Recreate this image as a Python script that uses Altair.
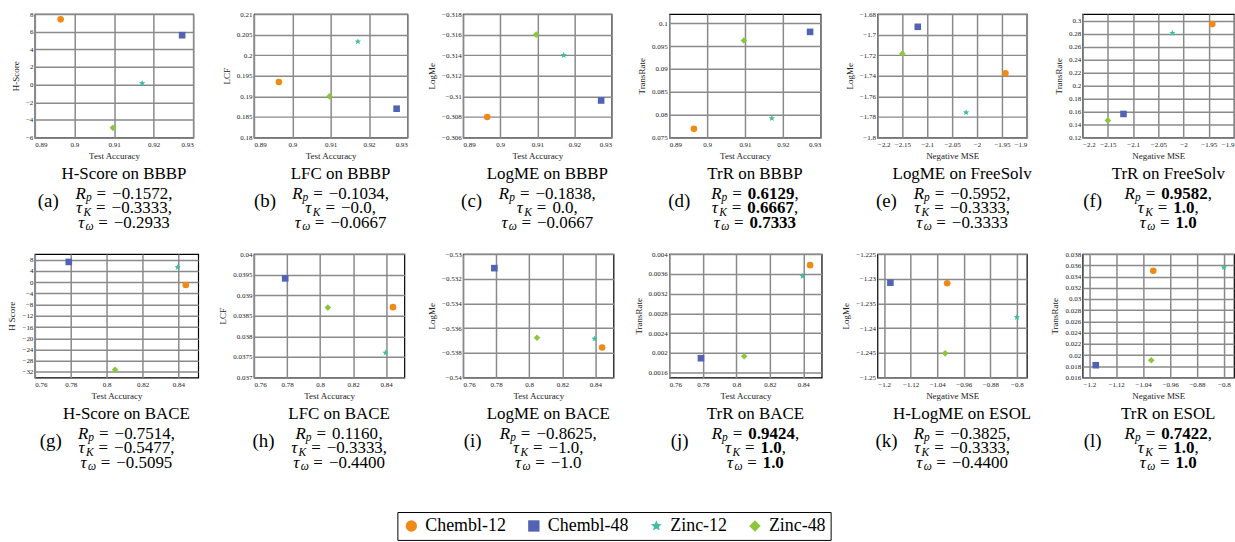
import math
import altair as alt
import pandas as pd

# ---------------- data ----------------
series = ["Chembl-12", "Chembl-48", "Zinc-12", "Zinc-48"]
colors = ["#ef8a17", "#5363b4", "#3fbf9f", "#8cc63f"]

bbbp_acc = [0.8965, 0.9272, 0.9171, 0.9097]
freesolv_nmse = [-1.943, -2.119, -2.022, -2.150]
bace_acc = [0.8441, 0.7789, 0.8396, 0.8047]
esol_nmse = [-1.010, -1.181, -0.800, -1.016]

hscore_bbbp = [7.4, 5.6, 0.15, -4.9]
lfc_bbbp = [0.1935, 0.1870, 0.2033, 0.1900]
logme_bbbp = [-0.3080, -0.3096, -0.3140, -0.3160]
trr_bbbp = [0.0769, 0.0981, 0.0792, 0.0962]
logme_freesolv = [-1.7376, -1.6924, -1.7756, -1.7185]
trr_freesolv = [0.2945, 0.1563, 0.2806, 0.1464]
hscore_bace = [-1.0, 7.2, 5.3, -31.2]
lfc_bace = [0.03871, 0.03941, 0.03760, 0.03870]
logme_bace = [-0.53757, -0.53114, -0.53686, -0.53678]
trr_bace = [0.003776, 0.001892, 0.003553, 0.001932]
hlogme_esol = [-1.2309, -1.2308, -1.2378, -1.2451]
trr_esol = [0.03503, 0.01820, 0.03562, 0.01909]

xt_bbbp = [0.89, 0.9, 0.91, 0.92, 0.93]
xt_bace = [0.76, 0.78, 0.8, 0.82, 0.84]
xt_freesolv = [-2.2, -2.15, -2.1, -2.05, -2, -1.95, -1.9]
xt_esol = [-1.2, -1.12, -1.04, -0.96, -0.88, -0.8]

yt_a = [-6, -4, -2, 0, 2, 4, 6, 8]
yt_b = [0.18, 0.185, 0.19, 0.195, 0.2, 0.205, 0.21]
yt_c = [-0.318, -0.316, -0.314, -0.312, -0.31, -0.308, -0.306]
yt_d = [0.075, 0.08, 0.085, 0.09, 0.095, 0.1]
yt_e = [-1.8, -1.78, -1.76, -1.74, -1.72, -1.7, -1.68]
yt_f = [0.12, 0.14, 0.16, 0.18, 0.2, 0.22, 0.24, 0.26, 0.28, 0.3]
yt_g = [-32, -28, -24, -20, -16, -12, -8, -4, 0, 4, 8]
yt_h = [0.037, 0.0375, 0.038, 0.0385, 0.039, 0.0395, 0.04]
yt_i = [-0.54, -0.538, -0.536, -0.534, -0.532, -0.53]
yt_j = [0.0016, 0.002, 0.0024, 0.0028, 0.0032, 0.0036, 0.004]
yt_k = [-1.25, -1.245, -1.24, -1.235, -1.23, -1.225]
yt_l = [0.016, 0.018, 0.02, 0.022, 0.024, 0.026, 0.028, 0.03, 0.032, 0.034, 0.036, 0.038]

letters = ["a", "b", "c", "d", "e", "f", "g", "h", "i", "j", "k", "l"]
captions = ["H-Score on BBBP", "LFC on BBBP", "LogME on BBBP", "TrR on BBBP",
            "LogME on FreeSolv", "TrR on FreeSolv", "H-Score on BACE", "LFC on BACE",
            "LogME on BACE", "TrR on BACE", "H-LogME on ESOL", "TrR on ESOL"]
M = "\u2212"
stats = [
    [M + "0.1572", M + "0.3333", M + "0.2933"],
    [M + "0.1034", M + "0.0", M + "0.0667"],
    [M + "0.1838", "0.0", M + "0.0667"],
    ["0.6129", "0.6667", "0.7333"],
    [M + "0.5952", M + "0.3333", M + "0.3333"],
    ["0.9582", "1.0", "1.0"],
    [M + "0.7514", M + "0.5477", M + "0.5095"],
    ["0.1160", M + "0.3333", M + "0.4400"],
    [M + "0.8625", M + "1.0", M + "1.0"],
    ["0.9424", "1.0", "1.0"],
    [M + "0.3825", M + "0.3333", M + "0.4400"],
    ["0.7422", "1.0", "1.0"],
]
bold = [False, False, False, True, False, True, False, False, False, True, False, True]

x_vals = [bbbp_acc] * 4 + [freesolv_nmse] * 2 + [bace_acc] * 4 + [esol_nmse] * 2
y_vals = [hscore_bbbp, lfc_bbbp, logme_bbbp, trr_bbbp, logme_freesolv, trr_freesolv,
          hscore_bace, lfc_bace, logme_bace, trr_bace, hlogme_esol, trr_esol]
x_titles = ["Test Accuracy"] * 4 + ["Negative MSE"] * 2 + ["Test Accuracy"] * 4 + ["Negative MSE"] * 2
y_titles = ["H-Score", "LCF", "LogMe", "TransRate", "LogMe", "TransRate",
            "H Score", "LCF", "LogMe", "TransRate", "LogMe", "TransRate"]
x_ticks = [xt_bbbp] * 4 + [xt_freesolv] * 2 + [xt_bace] * 4 + [xt_esol] * 2
y_ticks = [yt_a, yt_b, yt_c, yt_d, yt_e, yt_f, yt_g, yt_h, yt_i, yt_j, yt_k, yt_l]
x_domains = [[0.89, 0.93]] * 4 + [[-2.2, -1.9]] * 2 + [[0.76, 0.851]] * 4 + [[-1.22, -0.77]] * 2
y_domains = [[-6, 8], [0.18, 0.21], [-0.318, -0.306], [0.075, 0.102], [-1.8, -1.68], [0.12, 0.31],
             [-34, 10], [0.037, 0.04], [-0.54, -0.53], [0.0015, 0.004], [-1.25, -1.225], [0.016, 0.038]]
y_reverse = [False, False, True] + [False] * 9

# ---------------- style ----------------
widths = [159, 154, 149, 152, 150, 152, 164, 151, 151, 153, 150, 152]
H = 124
SERIF = "Liberation Serif"
TFS = 17     # caption title
FS = 17      # math lines
SUBFS = 11.5
NUMFMT = ".4~g"

# star symbol path
pts = []
for k in range(10):
    r = 1.0 if k % 2 == 0 else 0.45
    a = math.radians(-90 + 36 * k)
    pts.append(f"{r * math.cos(a):.3f},{r * math.sin(a):.3f}")
star = "M" + "L".join(pts) + "Z"
shapes = ["circle", "square", star, "diamond"]

REG = {c: 0.5 for c in "0123456789"}
REG.update({".": 0.25, ",": 0.25, " ": 0.25, "=": 0.564, M: 0.564})
BLD = dict(REG)
BLD.update({"=": 0.57, M: 0.57})
ITA = {"R": 0.611, "p": 0.5, "K": 0.667, "\u03c4": 0.44, "\u03c9": 0.67}


def tw(s, table, size):
    return sum(table.get(c, 0.5) for c in s) * size


legend = alt.Legend(title=None, orient="none", legendX=364, legendY=500,
                    direction="horizontal", columns=4)


def text_layer(rows, **kw):
    return alt.Chart(pd.DataFrame(rows)).mark_text(font=SERIF, color="black", **kw).encode(
        x=alt.X("px:Q", scale=None, axis=None),
        y=alt.Y("py:Q", scale=None, axis=None),
        text="t:N",
    )


def panel(i):
    W = widths[i]
    df = pd.DataFrame({"series": series, "x": x_vals[i], "y": y_vals[i]})
    pts_layer = alt.Chart(df).mark_point(filled=True, size=44, opacity=1, strokeWidth=0).encode(
        x=alt.X("x:Q", title=x_titles[i],
                scale=alt.Scale(domain=x_domains[i], nice=False, zero=False),
                axis=alt.Axis(values=x_ticks[i], format=NUMFMT)),
        y=alt.Y("y:Q", title=y_titles[i],
                scale=alt.Scale(domain=y_domains[i], nice=False, zero=False, reverse=y_reverse[i]),
                axis=alt.Axis(values=y_ticks[i], format=NUMFMT)),
        color=alt.Color("series:N", scale=alt.Scale(domain=series, range=colors), legend=legend),
        shape=alt.Shape("series:N", scale=alt.Scale(domain=series, range=shapes), legend=legend),
    )
    cx = W / 2 + 10
    syms = [("R", "p"), ("\u03c4", "K"), ("\u03c4", "\u03c9")]
    ys = [H + 56, H + 70.5, H + 85]
    r_it, r_sub, r_reg, r_bold = [], [], [], []
    for j, ((s, sb), val) in enumerate(zip(syms, stats[i])):
        comma = "," if j < 2 else ""
        w_sym = tw(s, ITA, FS)
        w_sub = tw(sb, ITA, SUBFS)
        g1, g2 = 5, 6
        w_eq = tw("=", REG, FS)
        w_val = tw(val, BLD if bold[i] else REG, FS)
        w_c = tw(comma, REG, FS)
        total = w_sym + w_sub + g1 + w_eq + g2 + w_val + w_c
        x0 = cx - total / 2
        yb = ys[j] + 5.5
        r_it.append(dict(px=x0, py=yb, t=s))
        r_sub.append(dict(px=x0 + w_sym, py=yb + 2.5, t=sb))
        xe = x0 + w_sym + w_sub + g1
        r_reg.append(dict(px=xe, py=yb, t="="))
        xv = xe + w_eq + g2
        (r_bold if bold[i] else r_reg).append(dict(px=xv, py=yb, t=val))
        if comma:
            r_reg.append(dict(px=xv + w_val, py=yb, t=comma))
    layers = [pts_layer,
              text_layer([dict(px=cx, py=H + 37, t=captions[i])], align="center", baseline="middle", fontSize=TFS),
              text_layer([dict(px=W / 2 - 66, py=H + 64, t="(" + letters[i] + ")")], align="center",
                         baseline="middle", fontSize=19),
              text_layer(r_it, align="left", baseline="alphabetic", fontSize=FS, fontStyle="italic"),
              text_layer(r_sub, align="left", baseline="alphabetic", fontSize=SUBFS, fontStyle="italic"),
              text_layer(r_reg, align="left", baseline="alphabetic", fontSize=FS)]
    if r_bold:
        layers.append(text_layer(r_bold, align="left", baseline="alphabetic", fontSize=FS, fontWeight="bold"))
    return alt.layer(*layers).resolve_scale(x="independent", y="independent").properties(width=W, height=H)


chart = alt.concat(*[panel(i) for i in range(12)], columns=6,
                   spacing={"row": 117, "column": 56}, bounds="flush", align="none").properties(
    padding={"left": 7, "top": 8, "right": 0, "bottom": 0}
).configure_view(stroke="black", strokeWidth=1.2).configure_axis(
    labelFont=SERIF, titleFont=SERIF, labelFontSize=7, titleFontSize=9, titleFontWeight="normal",
    labelColor="#222", titleColor="#222", gridColor="#8a8a8a", gridWidth=1.5,
    domain=False, ticks=False,
).configure_axisX(labelPadding=3, titlePadding=4).configure_axisY(labelPadding=2, titlePadding=5).configure_legend(
    labelFont=SERIF, labelFontSize=18, labelColor="black", symbolSize=130, symbolStrokeWidth=0,
    strokeColor="black", padding=5, columnPadding=19, labelOffset=5, fillColor="white",
)

chart.save("out.html", embed_options={"renderer": "svg", "actions": False})
